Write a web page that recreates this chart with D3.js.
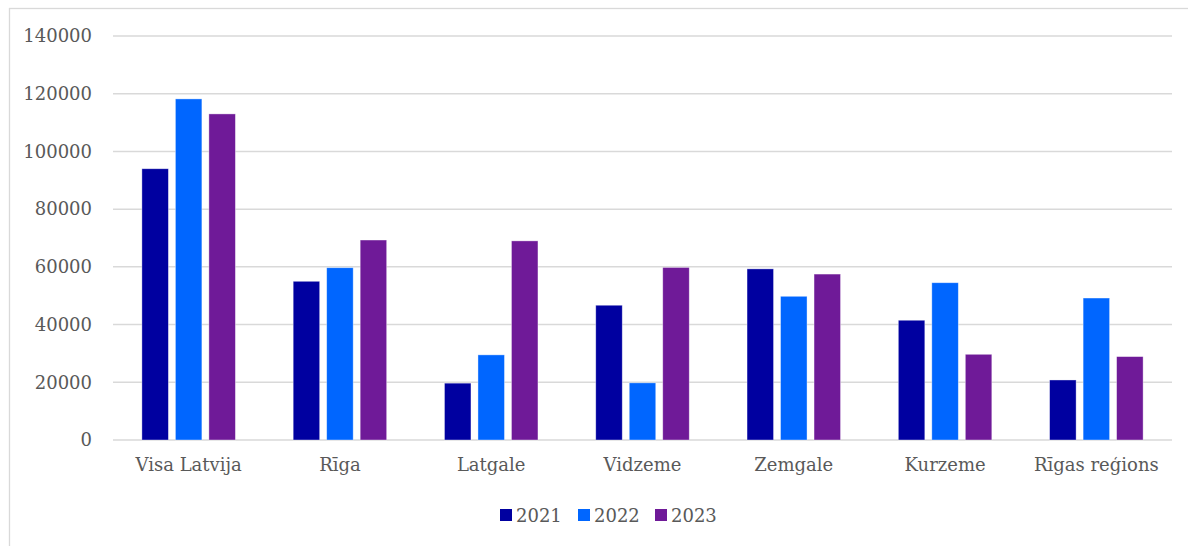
<!DOCTYPE html>
<html>
<head>
<meta charset="utf-8">
<script src="https://cdn.jsdelivr.net/npm/d3@7"></script>
<style>
  body { margin: 0; background: #fff; }
</style>
</head>
<body>
<script>
// Chart data
var regions = ["Visa Latvija", "Rīga", "Latgale", "Vidzeme", "Zemgale", "Kurzeme", "Rīgas reģions"];
var years = ["2021", "2022", "2023"];
var values2021 = [94000, 55000, 19700, 46700, 59300, 41500, 20800];
var values2022 = [118200, 59700, 29500, 19800, 49800, 54500, 49200];
var values2023 = [113000, 69300, 69000, 59800, 57500, 29700, 28900];
var yTicks = [0, 20000, 40000, 60000, 80000, 100000, 120000, 140000];
var colors = ["#0000a0", "#0066ff", "#6f1a98"];

var series = [values2021, values2022, values2023];
var FONT = "'DejaVu Serif', serif";
var FS = 18;

var svg = d3.select("body").append("svg")
  .attr("width", 1188)
  .attr("height", 546)
  .attr("font-family", FONT);

// outer chart border (right and bottom edges sit outside the picture)
svg.append("rect")
  .attr("x", 9.5).attr("y", 8.5)
  .attr("width", 1200).attr("height", 600)
  .attr("fill", "none")
  .attr("stroke", "#d9d9d9")
  .attr("stroke-width", 1.3);

// scales
var x0 = d3.scaleBand()
  .domain(regions)
  .range([113, 1172])
  .paddingInner(0.382)
  .paddingOuter(0.191);

var x1 = d3.scaleBand()
  .domain(years)
  .range([0, x0.bandwidth()])
  .paddingInner(0.209);

var y = d3.scaleLinear()
  .domain([0, 140000])
  .range([440, 36]);

// gridlines
svg.append("g")
  .selectAll("line")
  .data(yTicks)
  .join("line")
  .attr("x1", 113)
  .attr("x2", 1172)
  .attr("y1", d => y(d))
  .attr("y2", d => y(d))
  .attr("stroke", "#d9d9d9")
  .attr("stroke-width", 1.5);

// y axis labels
var yAxis = svg.append("g")
  .attr("transform", "translate(100,0)")
  .call(d3.axisLeft(y).tickValues(yTicks).tickSize(0).tickPadding(8).tickFormat(d3.format("d")));
yAxis.attr("font-family", FONT).attr("font-size", FS);
yAxis.select(".domain").remove();
yAxis.selectAll("text").attr("fill", "#595959");

// x axis labels
var xAxis = svg.append("g")
  .attr("transform", "translate(0,440)")
  .call(d3.axisBottom(x0).tickSize(0).tickPadding(18));
xAxis.attr("font-family", FONT).attr("font-size", FS);
xAxis.select(".domain").remove();
xAxis.selectAll("text").attr("fill", "#595959");

// bars
var groups = svg.append("g")
  .selectAll("g")
  .data(regions)
  .join("g")
  .attr("transform", d => `translate(${x0(d)},0)`);

groups.selectAll("rect")
  .data((d, i) => years.map((yr, j) => ({ year: yr, value: series[j][i], color: colors[j] })))
  .join("rect")
  .attr("x", d => x1(d.year))
  .attr("width", x1.bandwidth())
  .attr("y", d => y(d.value))
  .attr("height", d => y(0) - y(d.value))
  .attr("fill", d => d.color)
  .attr("stroke", "#ffffff")
  .attr("stroke-opacity", 0.5)
  .attr("stroke-width", 0.75);

// legend
var legendX = [500, 578, 655];
var legend = svg.append("g")
  .selectAll("g")
  .data(years)
  .join("g")
  .attr("transform", (d, i) => `translate(${legendX[i]},509)`);

legend.append("rect")
  .attr("width", 12)
  .attr("height", 12)
  .attr("fill", (d, i) => colors[i]);

legend.append("text")
  .attr("x", 16)
  .attr("y", 12.5)
  .attr("font-size", FS)
  .attr("fill", "#595959")
  .text(d => d);
</script>
</body>
</html>
